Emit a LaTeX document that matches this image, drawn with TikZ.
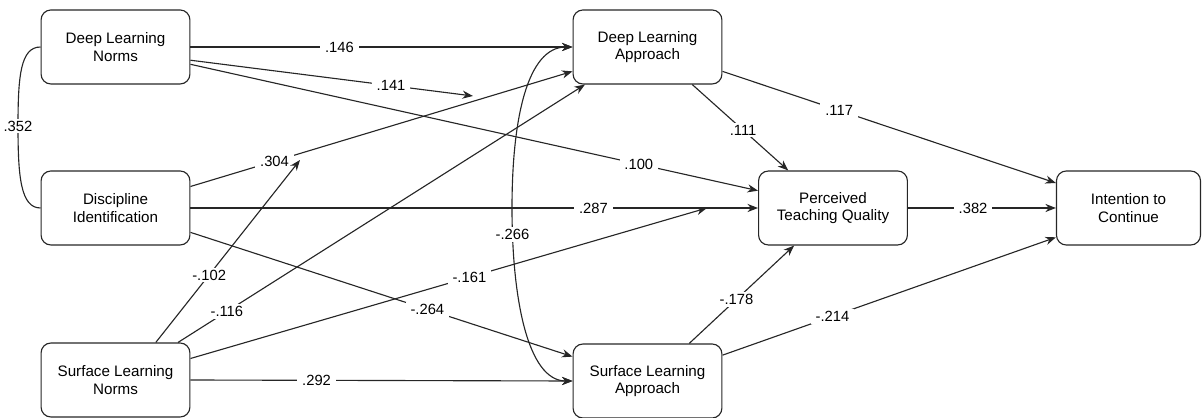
\documentclass[tikz,border=0pt]{standalone}
\usepackage{fontspec}
\setmainfont{Liberation Sans}
\usetikzlibrary{arrows.meta}

\begin{document}
\begin{tikzpicture}[x=0.025cm, y=-0.025cm,
	construct/.style={draw=black!85, line width=0.8pt, rounded corners=7pt, minimum width=3.72cm, minimum height=1.85cm, align=center, inner sep=2pt, font=\fontsize{10.8}{12.6}\selectfont},
	effect/.style={draw=black!85, line width=0.8pt, -{Stealth[length=7.5pt, width=5.8pt, inset=2.4pt]}},
	coef/.style={fill=white, inner xsep=3.5pt, inner ysep=1.5pt, font=\fontsize{10.5}{12}\selectfont}]
				
				\useasboundingbox (0,0) rectangle (1202,418);
				
				\node[construct] (dln) at (115.5,47) {Deep Learning\\Norms};
				
				\node[construct] (di) at (115.5,208) {Discipline\\Identification};
				
				\node[construct] (sln) at (115.5,380) {Surface Learning\\Norms};
				
				\node[construct] (dla) at (647.5,47) {Deep Learning\\Approach};
				
				\node[construct] (sla) at (647.5,381) {Surface Learning\\Approach};
				
				\node[construct] (ptq) at (833,208) {Perceived\\Teaching Quality};
				
				\node[construct, minimum width=3.6cm] (itc) at (1128.5,208) {Intention to\\Continue};
				
				\coordinate (c141) at (473,96);
				\coordinate (c102) at (300,160);
				\coordinate (c161) at (707,208);
				\coordinate (c266) at (512,208);
				\coordinate (c352) at (18,126);
				
				\draw[effect] (dln.east) -- node[coef, pos=0.39] {.146} (dla.west);
				
				\draw[effect] (dln.-10) -- node[coef, pos=0.71] {.141} (c141);
				
				\draw[effect] (dln.-13) -- node[coef, pos=0.79] {.100} (ptq.167);
				
				\draw[effect] (di.16) -- node[coef, pos=0.22] {.304} (dla.198);
				
				\draw[effect] (di.east) -- node[coef, pos=0.71] {.287} (ptq.west);
				
				\draw[effect] (di.-18) -- node[coef, pos=0.62] {-.264} (sla.162);
				
				\draw[effect] (sln.43) -- node[coef, pos=0.37] {-.102} (c102);
				
				\draw[effect] (sln.31) -- node[coef, pos=0.12] {-.116} (dla.211);
				
				\draw[effect] (sln.16) -- node[coef, pos=0.54] {-.161} (c161);
				
				\draw[effect] (sln.east) -- node[coef, pos=0.33] {.292} (sla.west);
				
				\draw[effect] (dla.-40) -- node[coef, pos=0.53] {.111} (ptq.140);
				
				\draw[effect] (dla.-18) -- node[coef, pos=0.35] {.117} (itc.161);
				
				\draw[effect] (ptq.east) -- node[coef, pos=0.44] {.382} (itc.west);
				
				\draw[effect] (sla.42) -- node[coef, pos=0.45] {-.178} (ptq.-136);
				
				\draw[effect] (sla.19) -- node[coef, pos=0.33] {-.214} (itc.202);
				
				\draw[effect, {Stealth[length=7.5pt, width=5.8pt, inset=2.4pt]}-{Stealth[length=7.5pt, width=5.8pt, inset=2.4pt]}] (dla.west) .. controls +(-45,0) and +(0,-90) .. (c266) .. controls +(0,90) and +(-45,0) .. (sla.west) node[coef, pos=0.1] {-.266};
				
				\draw[draw=black!85, line width=0.8pt] (dln.west) .. controls +(-20,0) and +(0,-50) .. (c352) node[coef] {.352} .. controls +(0,50) and +(-20,0) .. (di.west);
				
				\end{tikzpicture}
\end{document}
